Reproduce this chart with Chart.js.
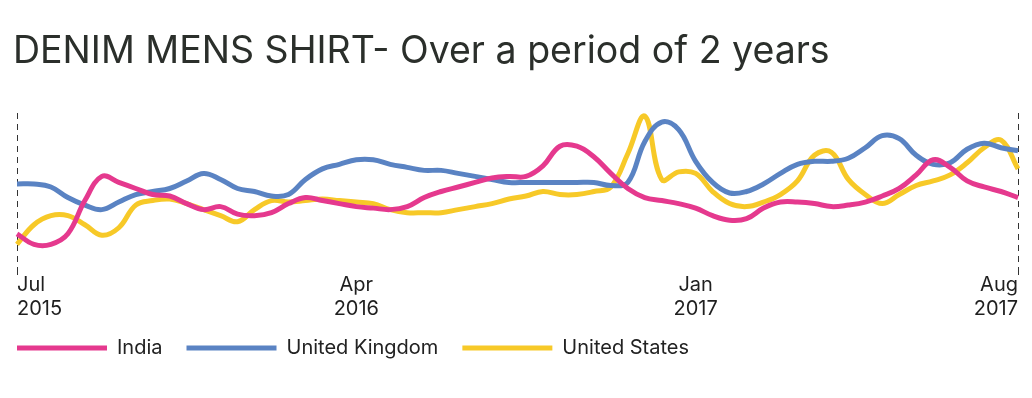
<!DOCTYPE html>
<html><head><meta charset="utf-8">
<script src="https://cdn.jsdelivr.net/npm/chart.js@4.4.1/dist/chart.umd.min.js"></script>
<style>html,body{margin:0;padding:0;background:#fff;}canvas{display:block;}</style>
</head><body>
<canvas id="c" width="1032" height="398"></canvas>
<script>
// Roughly fortnightly points from Jul 2015 to Aug 2017
const categories = Array.from({length: 60}, (_, i) => String(i));
const tickIndex = [0, 20, 40, 59];
const tickLabels = [["Jul", "2015"], ["Apr", "2016"], ["Jan", "2017"], ["Aug", "2017"]];

const india = [22,15,15,22,44,60,56,52,48,47, 42,38,40,35,34,36,42,46,44,42, 40,39,38,40,46,50,53,56,59,60, 60,67,80,80,73,62,52,46,44,42, 39,34,31,32,39,43,43,42,40,41, 43,47,52,61,71,66,57,53,50,46];
const unitedKingdom = [55,55,53,46,41,38,43,48,50,52, 57,62,58,52,50,47,48,58,65,68, 71,71,68,66,64,64,62,60,58,56, 56,56,56,56,56,54,56,83,96,91, 70,56,49,50,55,62,68,70,70,72, 79,87,85,74,68,69,78,82,79,77];
const unitedStates = [15,28,34,34,28,21,26,41,44,45, 42,38,34,30,38,44,43,44,45,44, 43,42,38,36,36,36,38,40,42,45, 47,50,48,48,50,53,75,100,58,63, 62,50,42,40,43,48,57,74,76,58, 48,42,48,54,57,61,69,79,84,65];

const seriesNames = ["India", "United Kingdom", "United States"];
const seriesColors = ["#e5398e", "#5a83c3", "#f7c928"];
const seriesData = [india, unitedKingdom, unitedStates];

const nudge = {
  id: 'nudge',
  afterLayout(chart) {
    if (chart.legend) { chart.legend.left -= 24; chart.legend.top -= 5; }
    if (chart.titleBlock) { chart.titleBlock.left -= 4; }
  }
};

const FONT = "Inter";
new Chart(document.getElementById('c'), {
  type: 'line',
  data: {
    labels: categories,
    datasets: seriesData.map((d, i) => ({
      label: seriesNames[i],
      data: d,
      borderColor: seriesColors[i],
      backgroundColor: seriesColors[i],
      borderWidth: 5,
      pointRadius: 0,
      pointHoverRadius: 0,
      tension: 0.4,
      fill: false
    }))
  },
  options: {
    responsive: false,
    animation: false,
    devicePixelRatio: 1,
    layout: { padding: { left: 17, right: 14, top: 0, bottom: 25 } },
    plugins: {
      title: {
        display: true,
        text: "DENIM MENS SHIRT- Over a period of 2 years",
        align: 'start',
        color: '#2b2f2b',
        font: { family: FONT, size: 37.5, weight: 'normal', lineHeight: 1.2 },
        padding: { top: 29, bottom: 39 }
      },
      legend: {
        position: 'bottom',
        align: 'start',
        labels: {
          boxWidth: 90,
          boxHeight: 5,
          padding: 24,
          color: '#222',
          font: { family: FONT, size: 20 },
          generateLabels(chart) {
            return chart.data.datasets.map((d, i) => ({
              text: d.label, fillStyle: d.borderColor, strokeStyle: d.borderColor,
              lineWidth: 0, hidden: false, datasetIndex: i, fontColor: '#222'
            }));
          }
        }
      },
      tooltip: { enabled: false }
    },
    scales: {
      y: { display: false, min: 0, max: 102 },
      x: {
        border: { display: false, dash: [6, 5] },
        grid: {
          drawOnChartArea: true,
          tickLength: 8,
          color: (ctx) => (ctx.index === 0 || ctx.index === categories.length - 1) ? '#333' : 'rgba(0,0,0,0)',
          tickColor: (ctx) => (ctx.index === 0 || ctx.index === categories.length - 1) ? '#333' : 'rgba(0,0,0,0)'
        },
        ticks: {
          autoSkip: false,
          maxRotation: 0,
          minRotation: 0,
          align: 'inner',
          padding: -2,
          color: '#1f1f1f',
          font: { family: FONT, size: 20, lineHeight: 1.2 },
          callback: (value, index) => {
            const k = tickIndex.indexOf(index);
            return k >= 0 ? tickLabels[k] : '';
          }
        }
      }
    }
  },
  plugins: [nudge]
});
</script>
</body></html>
